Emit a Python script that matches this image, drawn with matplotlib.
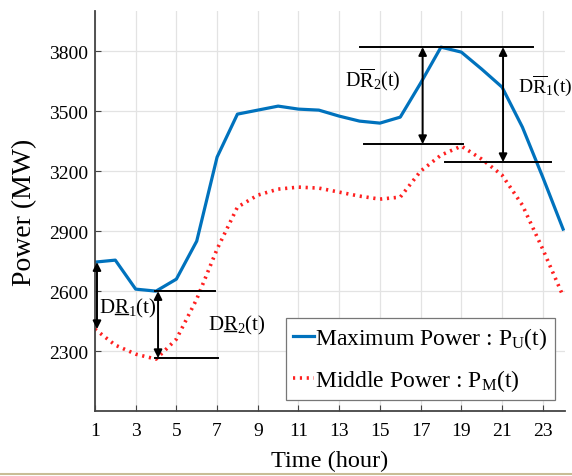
import matplotlib
matplotlib.use("Agg")
import matplotlib.pyplot as plt
import numpy as np

plt.rcParams['font.family'] = ['Liberation Serif', 'DejaVu Serif']
plt.rcParams['mathtext.fontset'] = 'custom'
plt.rcParams['mathtext.rm'] = 'Liberation Serif'
plt.rcParams['mathtext.it'] = 'Liberation Serif:italic'

hours = list(range(1, 25))
p_max = [2745, 2755, 2610, 2600, 2660, 2850, 3270, 3485, 3505, 3525, 3510, 3505,
         3475, 3450, 3440, 3470, 3640, 3820, 3795, 3710, 3620, 3420, 3170, 2910]
p_mid = [2410, 2330, 2285, 2260, 2360, 2560, 2810, 3020, 3080, 3110, 3120, 3115,
         3095, 3075, 3060, 3070, 3200, 3280, 3325, 3260, 3180, 3030, 2810, 2575]

xticks = list(range(1, 24, 2))
yticks = [2300, 2600, 2900, 3200, 3500, 3800]

# annotation geometry (hour, MW)
hlines = [(3820, 14.0, 22.5), (3335, 14.2, 19.1), (3245, 18.2, 23.4),
          (2600, 3.95, 6.9), (2265, 3.95, 7.05)]
arrows = [(17.1, 3335, 3820), (21.05, 3245, 3820), (4.1, 2265, 2600), (1.1, 2410, 2745)]

fig = plt.figure(figsize=(5.72, 4.77), dpi=100)
ax = fig.add_axes([0.166, 0.136, 0.822, 0.8386])

ax.plot(hours, p_max, color='#0072BD', lw=2.3, label=r'Maximum Power : P$_{\mathrm{U}}$(t)')
ax.plot(hours, p_mid, color='#FF2020', lw=2.6, ls=(0, (0.6, 1.3)),
        label=r'Middle Power : P$_{\mathrm{M}}$(t)')

for y, x0, x1 in hlines:
    ax.plot([x0, x1], [y, y], color='black', lw=1.4)
for x, y0, y1 in arrows:
    ax.annotate('', xy=(x, y1), xytext=(x, y0),
                arrowprops=dict(arrowstyle='<|-|>', color='black', lw=1.4,
                                mutation_scale=12, shrinkA=0, shrinkB=0))

ax.text(13.29, 3660, r'D$\overline{\mathrm{R}}_{2}$(t)', fontsize=14.5, ha='left', va='center')
ax.text(21.8, 3635, r'D$\overline{\mathrm{R}}_{1}$(t)', fontsize=14, ha='left', va='center')

ax.set_xlim(1, 24.1)
ax.set_ylim(2000, 4000)
ax.set_xticks(xticks)
ax.set_yticks(yticks)
ax.tick_params(direction='in', labelsize=14, length=4, color='#444444')
ax.tick_params(axis='x', pad=8)
ax.tick_params(axis='y', pad=5)
ax.grid(True, color='#e3e3e3', lw=0.9)
ax.set_axisbelow(True)
for s in ['top', 'right']:
    ax.spines[s].set_visible(False)
for s in ['left', 'bottom']:
    ax.spines[s].set_color('#444444')
    ax.spines[s].set_linewidth(1.3)

ax.set_xlabel('Time (hour)', fontsize=17.5, labelpad=8)
ax.set_ylabel('Power (MW)', fontsize=20, labelpad=8.5)

leg = ax.legend(loc='lower right', bbox_to_anchor=(0.988, 0.015), fontsize=17,
                handlelength=0.9, handletextpad=0.05, borderpad=0.3,
                labelspacing=0.7, borderaxespad=0.2,
                fancybox=False, framealpha=1, edgecolor='#777777')
leg.get_frame().set_linewidth(0.9)

# lower labels with underlined R
fig.canvas.draw()
renderer = fig.canvas.get_renderer()
for (xl, yc, sub) in [(1.2, 2520, '1'), (6.55, 2435, '2')]:
    t = ax.text(xl, yc, r'DR$_{%s}$(t)' % sub, fontsize=15, ha='left', va='center')
    d = ax.text(xl, yc, 'D', fontsize=15, ha='left', va='center', alpha=0)
    dr = ax.text(xl, yc, 'DR', fontsize=15, ha='left', va='center', alpha=0)
    fig.canvas.draw()
    bd = d.get_window_extent(renderer)
    bdr = dr.get_window_extent(renderer)
    x0d, yb = bd.x1, bd.y0
    x1d = bdr.x1
    inv = ax.transData.inverted()
    (ux0, uy), (ux1, _) = inv.transform([(x0d + 0.5, yb + 3.0), (x1d - 0.5, yb + 3.0)])
    ax.plot([ux0, ux1], [uy, uy], color='black', lw=1.0)

fig.add_artist(plt.Line2D([0, 1], [0.004, 0.004], color='#c8bd96', lw=1.5,
                          transform=fig.transFigure))

fig.savefig('out.png', dpi=100)
